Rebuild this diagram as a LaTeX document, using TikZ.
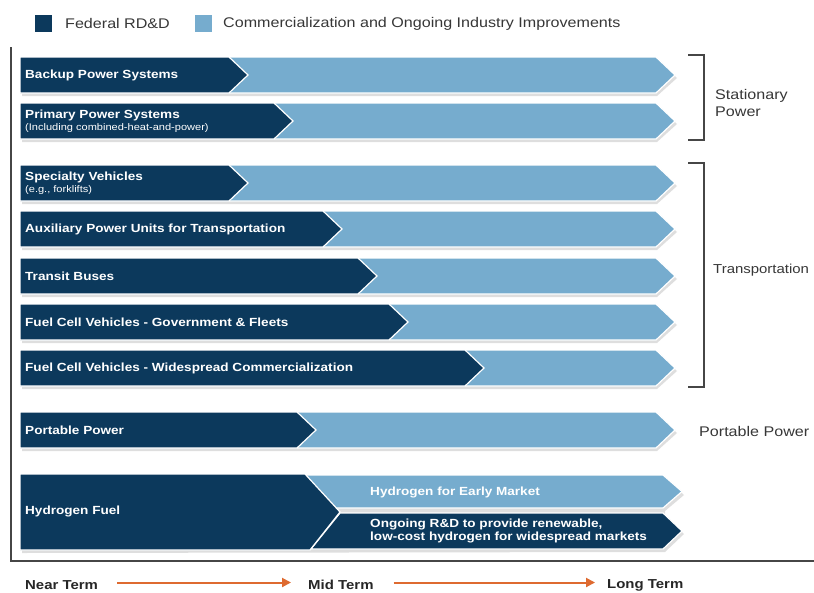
\documentclass[tikz,border=0pt]{standalone}
\usepackage{fontspec}
\setmainfont[FakeStretch=1.15]{Liberation Sans}
\usetikzlibrary{arrows.meta}
\definecolor{dkblue}{RGB}{12,57,92}
\definecolor{ltblue}{RGB}{118,172,206}
\definecolor{txtgray}{RGB}{55,55,55}
\definecolor{framegray}{RGB}{70,70,70}
\definecolor{orng}{RGB}{222,106,48}
\newcommand\mybar[3]{%
  \fill[shd] (22,{#1+3}) -- (657,{#1+3}) -- (677,{(#1+#2)/2+3}) -- (657,{#2+3}) -- (22,{#2+3}) -- cycle;
  \path[lt] (20,#1) -- (656,#1) -- (675,{(#1+#2)/2}) -- (656,#2) -- (20,#2) -- cycle;
  \path[dk] (20,#1) -- ({#3-19},#1) -- (#3,{(#1+#2)/2}) -- ({#3-19},#2) -- (20,#2) -- cycle;
}
\tikzset{
  dk/.style={fill=dkblue, draw=white, line width=1.2pt, line join=miter},
  lt/.style={fill=ltblue, draw=white, line width=1.2pt, line join=miter},
  shd/.style={fill=black, opacity=0.13},
  lbl/.style={anchor=west, text=white, inner sep=0pt, font=\bfseries\fontsize{11.8}{13.5}\selectfont},
  sublbl/.style={anchor=west, text=white, inner sep=0pt, font=\fontsize{9.6}{11}\selectfont},
  side/.style={anchor=west, text=txtgray, inner sep=0pt, align=left, font=\fontsize{14}{17}\selectfont},
  legtxt/.style={anchor=west, text=txtgray, inner sep=0pt, font=\fontsize{14}{17}\selectfont},
  term/.style={anchor=west, text=black!85, inner sep=0pt, font=\bfseries\fontsize{13}{15}\selectfont},
  brk/.style={draw=framegray, line width=1.3pt},
  oarr/.style={draw=orng, line width=2pt, -{Triangle[length=9pt,width=9pt]}},
}
\begin{document}
\begin{tikzpicture}[x=1pt,y=-1pt]
\useasboundingbox (0,0) rectangle (814,592);
\clip (0,0) rectangle (814,592);
\fill[white] (0,0) rectangle (814,592);

% legend
\fill[dkblue] (35,15) rectangle (52,32);
\node[legtxt] (leg1) at (65,23.5) {Federal RD\&D};
\fill[ltblue] (195,15) rectangle (212,32);
\node[legtxt] (leg2) at (223,23.5) {Commercialization and Ongoing Industry Improvements};

% frame
\draw[framegray, line width=2pt] (11,47) -- (11,561) -- (814,561);

% bars
\mybar{57}{93}{248}
\node[lbl] (b1) at (25,75) {Backup Power Systems};
\mybar{103}{139}{293}
\node[lbl] (b2) at (25,115.5) {Primary Power Systems};
\node[sublbl] (b2s) at (25,128.5) {(Including combined-heat-and-power)};
\mybar{165}{201}{248}
\node[lbl] (b3) at (25,177.5) {Specialty Vehicles};
\node[sublbl] (b3s) at (25,190.5) {(e.g., forklifts)};
\mybar{211}{247}{342}
\node[lbl] (b4) at (25,229) {Auxiliary Power Units for Transportation};
\mybar{258}{294}{377}
\node[lbl] (b5) at (25,276) {Transit Buses};
\mybar{304}{340}{408}
\node[lbl] (b6) at (25,322) {Fuel Cell Vehicles - Government \& Fleets};
\mybar{350}{386}{484}
\node[lbl] (b7) at (25,368) {Fuel Cell Vehicles - Widespread Commercialization};
\mybar{412}{448}{316}
\node[lbl] (b8) at (25,430) {Portable Power};

% hydrogen fuel
\fill[shd] (22,477) -- (665,477) -- (684,495) -- (665,511) -- (665,516) -- (684,534) -- (665,552) -- (22,553) -- cycle;
\path[lt] (305,475) -- (663,475) -- (682,491.5) -- (663,508) -- (336,508) -- cycle;
\path[dk] (340,513) -- (663,513) -- (682,531) -- (663,549) -- (311,549) -- cycle;
\path[dk] (20,474) -- (305,474) -- (340,512) -- (310,550) -- (20,550) -- cycle;
\node[lbl] (h1) at (25,511.5) {Hydrogen Fuel};
\node[lbl] (h2) at (370,492) {Hydrogen for Early Market};
\node[lbl, align=left] (h3) at (370,531) {Ongoing R\&D to provide renewable,\\low-cost hydrogen for widespread markets};

% brackets and side labels
\draw[brk] (688,55) -- (704,55) -- (704,140) -- (688,140);
\node[side] (s1) at (715,103) {Stationary\\Power};
\draw[brk] (688,163) -- (704,163) -- (704,387) -- (688,387);
\node[side, font=\fontsize{13}{16}\selectfont] (s2) at (713,270) {Transportation};
\node[side] (s3) at (699,431.5) {Portable Power};

% time axis
\node[term] (near) at (25,585) {Near Term};
\node[term] (mid) at (308,585) {Mid Term};
\node[term] (long) at (607,585) {Long Term};
\draw[oarr] ([xshift=19pt,yshift=2.5pt]near.east) -- ([xshift=-17pt,yshift=2.5pt]mid.west);
\draw[oarr] ([xshift=20pt,yshift=2.5pt]mid.east) -- ([xshift=-12pt,yshift=2.5pt]long.west);
\end{tikzpicture}
\end{document}
